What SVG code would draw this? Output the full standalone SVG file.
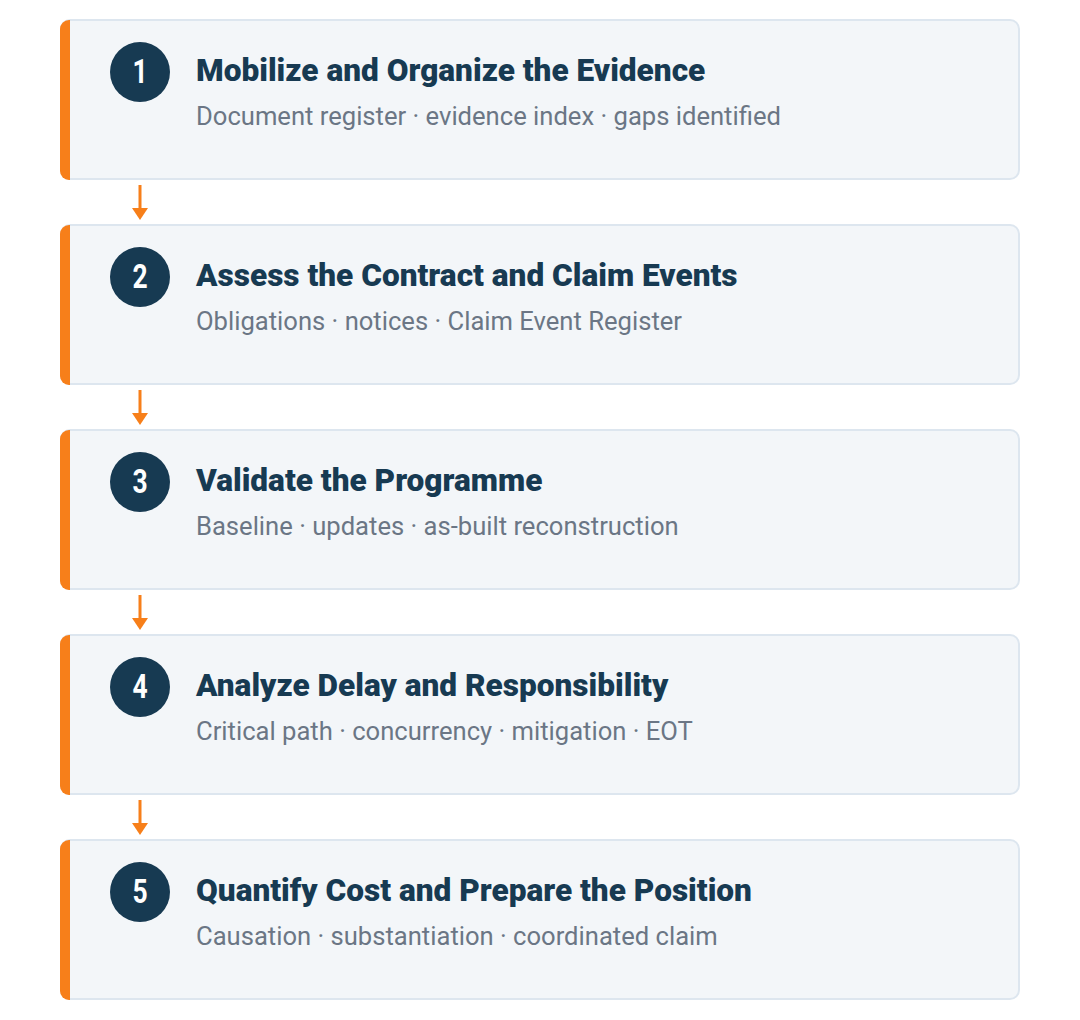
<svg xmlns="http://www.w3.org/2000/svg" width="1080" height="1020" viewBox="0 0 1080 1020">
<defs>
<style>
.card{fill:#f3f6f9;stroke:#dde6ef;stroke-width:2}
.bar{fill:#f77f1a}
.num{fill:#173a52}
.numt{font-family:Roboto,"Liberation Sans",sans-serif;font-weight:700;font-size:33px;fill:#ffffff;text-anchor:middle}
.title{font-family:Roboto,"Liberation Sans",sans-serif;font-weight:900;font-size:31.6px;fill:#173a52}
.sub{font-family:Roboto,"Liberation Sans",sans-serif;font-weight:400;font-size:25.6px;fill:#6b7685}
.conn{stroke:#f77f1a;stroke-width:3;fill:none}
.head{fill:#f77f1a}
</style>
<clipPath id="c"><rect x="60" y="0" width="960" height="160" rx="9"/></clipPath>
</defs>
<rect width="1080" height="1020" fill="#ffffff"/>
<g id="connectors">
<line class="conn" x1="140" y1="185" x2="140" y2="210"/><polygon class="head" points="132,208 148,208 140,220"/>
<line class="conn" x1="140" y1="390" x2="140" y2="415"/><polygon class="head" points="132,413 148,413 140,425"/>
<line class="conn" x1="140" y1="595" x2="140" y2="620"/><polygon class="head" points="132,618 148,618 140,630"/>
<line class="conn" x1="140" y1="800" x2="140" y2="825"/><polygon class="head" points="132,823 148,823 140,835"/>
</g>
<g id="step1" transform="translate(0,20)">
<rect class="card" x="61" y="0" width="958" height="159" rx="9"/>
<rect class="bar" x="60" y="0" width="10" height="160" clip-path="url(#c)"/>
<circle class="num" cx="140" cy="52" r="30"/>
<text class="numt" x="140" y="63.5" transform="translate(140,0) scale(0.8,1) translate(-140,0)">1</text>
<text class="title" x="196" y="61">Mobilize and Organize the Evidence</text>
<text class="sub" x="196" y="105">Document register · evidence index · gaps identified</text>
</g>
<g id="step2" transform="translate(0,225)">
<rect class="card" x="61" y="0" width="958" height="159" rx="9"/>
<rect class="bar" x="60" y="0" width="10" height="160" clip-path="url(#c)"/>
<circle class="num" cx="140" cy="52" r="30"/>
<text class="numt" x="140" y="63.5" transform="translate(140,0) scale(0.8,1) translate(-140,0)">2</text>
<text class="title" x="196" y="61">Assess the Contract and Claim Events</text>
<text class="sub" x="196" y="105">Obligations · notices · Claim Event Register</text>
</g>
<g id="step3" transform="translate(0,430)">
<rect class="card" x="61" y="0" width="958" height="159" rx="9"/>
<rect class="bar" x="60" y="0" width="10" height="160" clip-path="url(#c)"/>
<circle class="num" cx="140" cy="52" r="30"/>
<text class="numt" x="140" y="63.5" transform="translate(140,0) scale(0.8,1) translate(-140,0)">3</text>
<text class="title" x="196" y="61">Validate the Programme</text>
<text class="sub" x="196" y="105">Baseline · updates · as-built reconstruction</text>
</g>
<g id="step4" transform="translate(0,635)">
<rect class="card" x="61" y="0" width="958" height="159" rx="9"/>
<rect class="bar" x="60" y="0" width="10" height="160" clip-path="url(#c)"/>
<circle class="num" cx="140" cy="52" r="30"/>
<text class="numt" x="140" y="63.5" transform="translate(140,0) scale(0.8,1) translate(-140,0)">4</text>
<text class="title" x="196" y="61">Analyze Delay and Responsibility</text>
<text class="sub" x="196" y="105">Critical path · concurrency · mitigation · EOT</text>
</g>
<g id="step5" transform="translate(0,840)">
<rect class="card" x="61" y="0" width="958" height="159" rx="9"/>
<rect class="bar" x="60" y="0" width="10" height="160" clip-path="url(#c)"/>
<circle class="num" cx="140" cy="52" r="30"/>
<text class="numt" x="140" y="63.5" transform="translate(140,0) scale(0.8,1) translate(-140,0)">5</text>
<text class="title" x="196" y="61">Quantify Cost and Prepare the Position</text>
<text class="sub" x="196" y="105">Causation · substantiation · coordinated claim</text>
</g>
</svg>
